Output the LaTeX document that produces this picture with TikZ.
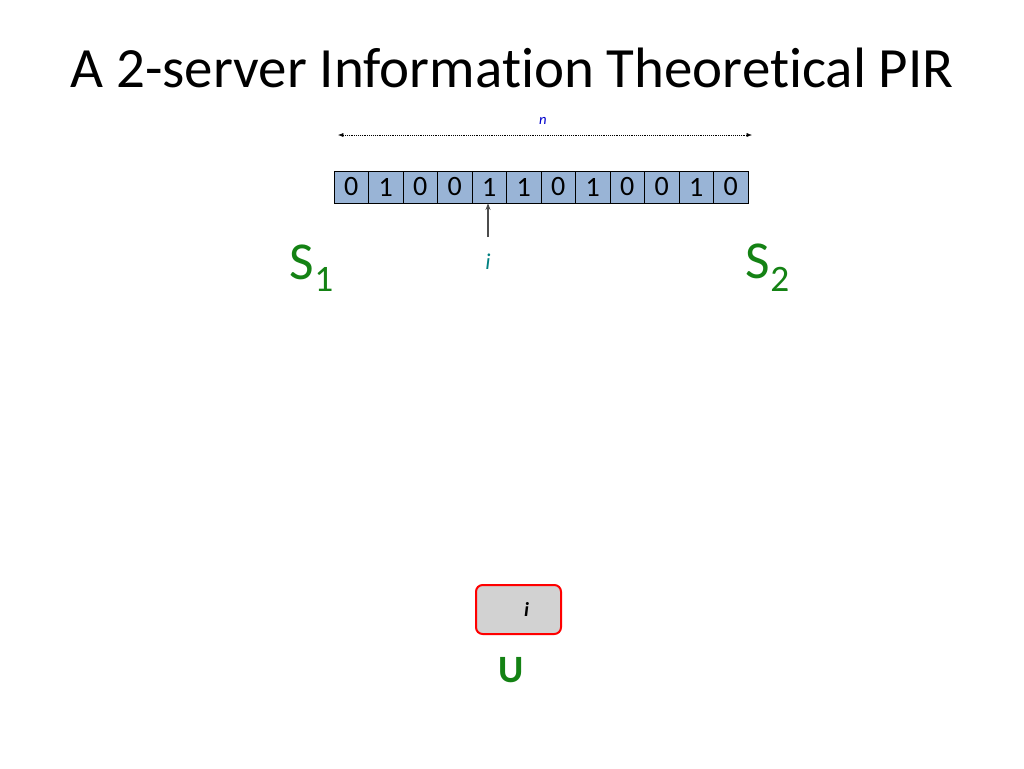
\documentclass[tikz,border=0pt]{standalone}
\usepackage{fontspec}
\setmainfont[Ligatures=NoCommon]{Carlito}
\usetikzlibrary{arrows.meta}
\definecolor{cellblue}{RGB}{153,180,214}
\definecolor{srvgreen}{RGB}{20,130,20}
\definecolor{idxteal}{RGB}{0,128,128}
\tikzset{
  cell/.style={draw, fill=cellblue, minimum width=34.5*0.75pt, minimum height=32*0.75pt, inner sep=0pt, font=\fontsize{21}{21}\selectfont},
  server/.style={text=srvgreen, font=\fontsize{40}{40}\selectfont},
}
\begin{document}
\begin{tikzpicture}[x=0.75pt,y=-0.75pt]
            \useasboundingbox (0,0) rectangle (1024,768);
            \node (title) at (512,68) {\fontsize{42.7}{42.7}\selectfont A 2-server Information Theoretical PIR};
            % database
            \foreach \b [count=\k] in {0,1,0,0,1,1,0,1,0,0,1,0}
                \node[cell] (c\k) at ({334+34.5*(\k-0.5)},187) {\b};
            \coordinate (nl) at (338,135);
            \coordinate (nr) at (752,135);
            \draw[densely dotted, {Latex[length=4pt]}-{Latex[length=4pt]}] (nl) -- (nr);
            \node[text=blue!80!black, font=\itshape\fontsize{11}{11}\selectfont] (n) at (543,121) {n};
            % index pointer
            \node[text=idxteal, font=\itshape\fontsize{17}{17}\selectfont] (idx) at (488,262) {i};
            \coordinate (ptr) at (488,237);
            \draw[gray!60!black, line width=1.5pt, -{Stealth[length=5pt]}] (ptr) -- (ptr |- c5.south);
            % servers
            \node[server] (s1) at (312,268) {S$_{\mathrm{1}}$};
            \node[server] (s2) at (768,268) {S$_{\mathrm{2}}$};
            % user
            \node[draw=red, line width=1.5pt, fill=gray!35, rounded corners=5pt, minimum width=85*0.75pt, minimum height=49*0.75pt, font=\bfseries\itshape\fontsize{15}{15}\selectfont] (q) at (518.5,609.5) {\hspace{12pt}i};
            \node[text=srvgreen, font=\bfseries\fontsize{29}{29}\selectfont] (u) at (511,670) {U};
\end{tikzpicture}
\end{document}
